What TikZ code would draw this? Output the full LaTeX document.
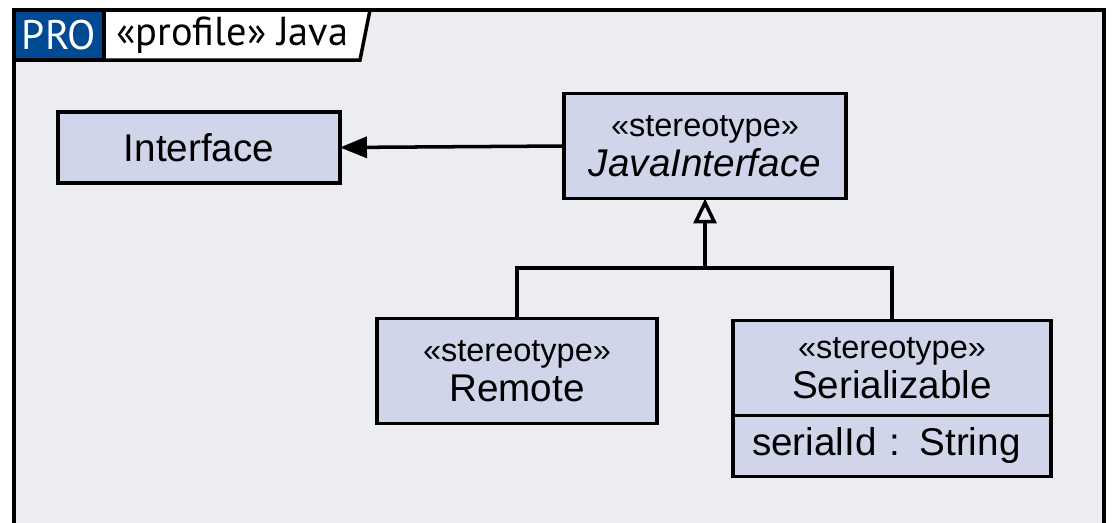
\documentclass[tikz,border=0pt]{standalone}
\usepackage{fontspec}
\setmainfont{Liberation Sans}
\newfontfamily\headfont{PT Sans}
\usetikzlibrary{arrows.meta,positioning}

\definecolor{pkgbg}{RGB}{236,237,240}
\definecolor{clsfill}{RGB}{208,213,233}
\definecolor{problue}{RGB}{0,74,148}

\tikzset{
  cls/.style={draw, fill=clsfill, line width=2pt, minimum width=5.64cm, outer sep=0pt,
    align=center, inner sep=0pt, font=\fontsize{22}{22.5}\selectfont},
  assoc/.style={line width=2pt, -{Triangle[length=0.54cm,width=0.42cm]}},
  gen/.style={line width=2pt, -{Triangle[open,length=0.5cm,width=0.46cm,fill=pkgbg]}},
  tree/.style={line width=2pt}
}
\newcommand{\stname}[1]{{\fontsize{18.5}{22.5}\selectfont «stereotype»}\\#1}

\begin{document}
\begin{tikzpicture}[x=0.02cm,y=-0.02cm]

        \useasboundingbox (0,0) rectangle (1112,522);
        \clip (0,0) rectangle (1112,522);
        \fill[white] (0,0) rectangle (1112,522);

        % package frame and its name tab
        \draw[line width=2pt, fill=pkgbg] (14,10) rectangle (1104,580);
        \draw[line width=2pt, fill=white] (104,10) -- (370,10) -- (360,60) -- (14,60);
        \node[draw, line width=2pt, fill=problue, text=white, minimum width=1.8cm,
              minimum height=1cm, inner sep=0pt, font=\headfont\fontsize{23.5}{24}\selectfont]
              (pro) at (59,35) {PRO};
        \node[anchor=west, inner sep=0pt, font=\headfont\fontsize{23}{24}\selectfont]
              (ptitle) at (116,35) {«profile» Java};

        % classes
        \begin{scope}[every node/.style={cls}]
          \node[minimum height=1.42cm] (iface) at (199,147.5) {Interface};
          \node[minimum height=2.1cm]  (jint)  at (705,146) {\stname{\textit{JavaInterface}}};
          \node[minimum width=5.6cm, minimum height=2.1cm] (rem) at (517,371) {\stname{Remote}};
          \node[minimum width=6.36cm, minimum height=1.9cm] (ser) at (892,368) {\stname{Serializable}};
          \node[below=0pt of ser, minimum width=6.36cm, minimum height=1.22cm,
                text width=5.6cm, align=left] (serattr) {serialId : String};
        \end{scope}

        % connectors
        \coordinate (fork) at (705,268);
        \draw[assoc] (jint.west) -- (iface.east);
        \draw[gen] (fork) -- (jint.south);
        \draw[tree] (rem.north) |- (fork) -| (ser.north);

      \end{tikzpicture}
\end{document}
